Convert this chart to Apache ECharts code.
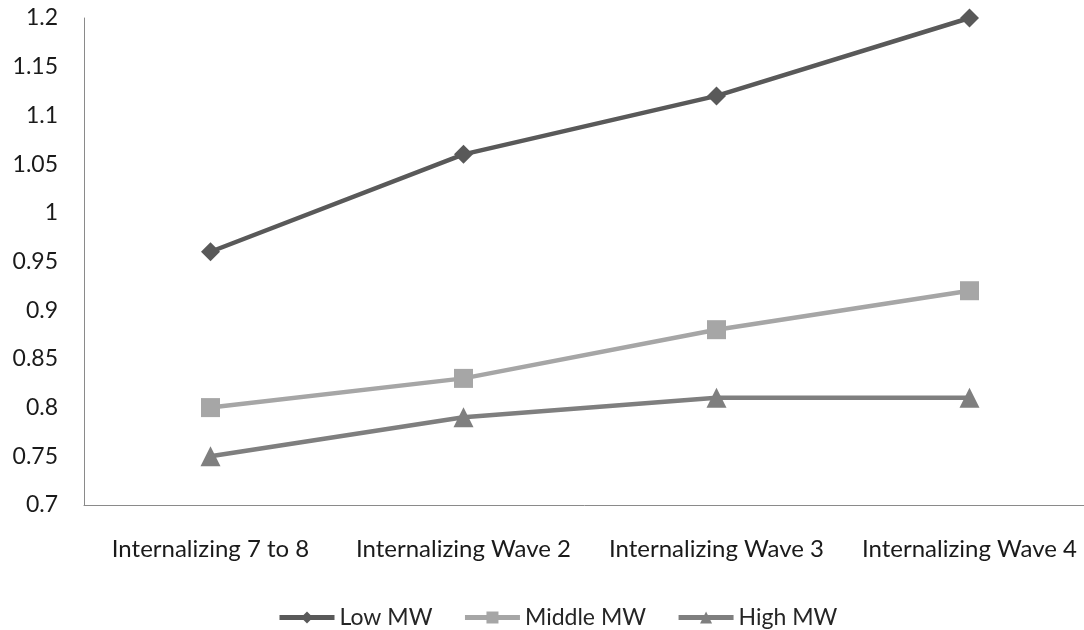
<!DOCTYPE html>
<html>
<head>
<meta charset="utf-8">
<script src="https://cdn.jsdelivr.net/npm/echarts@6/dist/echarts.min.js"></script>
<style>
  html, body { margin: 0; padding: 0; background: #fff; }
  #chart { width: 1084px; height: 630px; }
</style>
</head>
<body>
<div id="chart"></div>
<script>
// Categories along the x axis
const categories = ['Internalizing 7 to 8', 'Internalizing Wave 2', 'Internalizing Wave 3', 'Internalizing Wave 4'];
// Mean scores per group
const lowMW = [0.96, 1.06, 1.12, 1.20];
const middleMW = [0.80, 0.83, 0.88, 0.92];
const highMW = [0.75, 0.79, 0.81, 0.81];
// Y axis range
const yMin = 0.7, yMax = 1.2, yStep = 0.05;

const font = 'Lato, "Open Sans", sans-serif';

const chart = echarts.init(document.getElementById('chart'), null, { renderer: 'canvas' });

function lineSeries(name, data, color, symbol, size) {
  return {
    name: name,
    type: 'line',
    data: data,
    symbol: symbol,
    symbolSize: size,
    lineStyle: { color: color, width: 4.5 },
    itemStyle: { color: color },
    emphasis: { disabled: true },
    z: 3
  };
}

chart.setOption({
  animation: false,
  textStyle: { fontFamily: font },
  grid: { left: 84, top: 18, bottom: 125, right: -12, containLabel: false, outerBoundsMode: 'none' },
  legend: {
    top: 606,
    left: 277,
    padding: 0,
    itemWidth: 55,
    itemHeight: 15,
    itemGap: 30,
    lineStyle: { width: 5 },
    textStyle: { fontFamily: font, fontSize: 23, color: '#262626', padding: [0, 0, 0, 0] },
    data: ['Low MW', 'Middle MW', 'High MW']
  },
  xAxis: {
    type: 'category',
    data: categories,
    boundaryGap: true,
    axisLine: { lineStyle: { color: '#8a8a8a', width: 1 } },
    axisTick: { show: false },
    axisLabel: { margin: 32, fontSize: 24, color: '#1a1a1a', fontFamily: font, interval: 0 },
    splitLine: { show: false }
  },
  yAxis: {
    type: 'value',
    min: yMin,
    max: yMax,
    interval: yStep,
    axisLine: { show: true, lineStyle: { color: '#8a8a8a', width: 1 } },
    axisTick: { show: false },
    splitLine: { show: false },
    axisLabel: {
      margin: 26,
      fontSize: 23,
      color: '#1a1a1a',
      fontFamily: font,
      formatter: v => String(parseFloat(v.toFixed(2)))
    }
  },
  series: [
    lineSeries('Low MW', lowMW, '#595959', 'diamond', 19),
    lineSeries('Middle MW', middleMW, '#a6a6a6', 'rect', 19),
    lineSeries('High MW', highMW, '#7f7f7f', 'triangle', 20)
  ]
});
</script>
</body>
</html>
